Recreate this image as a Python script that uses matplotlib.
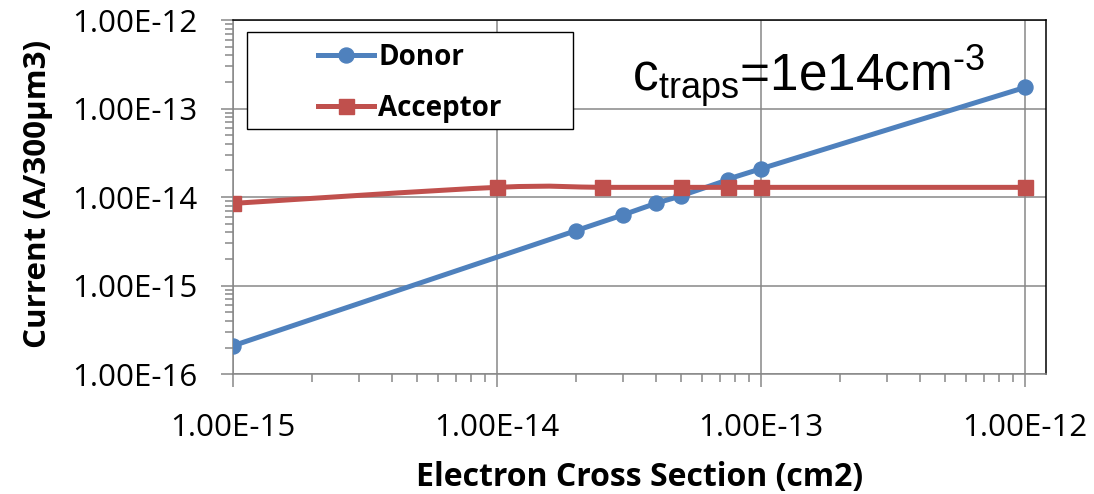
import numpy as np
import matplotlib
matplotlib.use('Agg')
import matplotlib.pyplot as plt
from matplotlib.path import Path
from matplotlib.patches import PathPatch, Rectangle
from matplotlib.lines import Line2D
from matplotlib.ticker import LogLocator, FixedLocator, NullFormatter
from matplotlib.font_manager import FontProperties

# ---------------- data ----------------
donor_x = [1e-15, 2e-14, 3e-14, 4e-14, 5e-14, 7.5e-14, 1e-13, 1e-12]
donor_y = [2.1e-16, 4.2e-15, 6.3e-15, 8.5e-15, 1.04e-14, 1.57e-14, 2.09e-14, 1.73e-13]

acceptor_x = [1e-15, 1e-14, 2.5e-14, 5e-14, 7.5e-14, 1e-13, 1e-12]
acceptor_y = [8.5e-15, 1.29e-14, 1.29e-14, 1.29e-14, 1.29e-14, 1.29e-14, 1.29e-14]

series_names = ['Donor', 'Acceptor']

x_tick_values = [1e-15, 1e-14, 1e-13, 1e-12]
x_tick_labels = ['1.00E-15', '1.00E-14', '1.00E-13', '1.00E-12']
y_tick_values = [1e-16, 1e-15, 1e-14, 1e-13, 1e-12]
y_tick_labels = ['1.00E-16', '1.00E-15', '1.00E-14', '1.00E-13', '1.00E-12']

x_label = 'Electron Cross Section (cm2)'
y_label = 'Current (A/300\u00b5m3)'
annotation = r'$\text{c}_{\text{traps}}\text{=1e14cm}^{\text{-3}}$'

# ---------------- style ----------------
plt.rcParams['mathtext.fontset'] = 'custom'
plt.rcParams['mathtext.rm'] = 'Liberation Sans'
plt.rcParams['mathtext.it'] = 'Liberation Sans:italic'
plt.rcParams['mathtext.bf'] = 'Liberation Sans:bold'

W, H = 1094, 494
blue = '#4F81BD'
red = '#C0504D'
grid_c = '#878787'
tick_font = 'Open Sans'
lw_series = 3.6


def smooth_path(xs, ys):
    """Excel-like smoothed line (Bezier through points, in log space)."""
    lx, ly = np.log10(xs), np.log10(ys)
    n = len(lx)
    verts = [(lx[0], ly[0])]
    codes = [Path.MOVETO]
    for i in range(n - 1):
        a = i - 1 if i > 0 else i
        b = i + 2 if i + 2 < n else i + 1
        c1 = (lx[i] + (lx[i + 1] - lx[a]) / 6, ly[i] + (ly[i + 1] - ly[a]) / 6)
        c2 = (lx[i + 1] - (lx[b] - lx[i]) / 6, ly[i + 1] - (ly[b] - ly[i]) / 6)
        verts += [c1, c2, (lx[i + 1], ly[i + 1])]
        codes += [Path.CURVE4] * 3
    return Path(10 ** np.array(verts), codes)


fig = plt.figure(figsize=(W / 100, H / 100), dpi=100)
L, R, T, B = 233, 1045.7, 20, 374.3
ax = fig.add_axes([L / W, 1 - B / H, (R - L) / W, (B - T) / H])

ax.set_xscale('log')
ax.set_yscale('log')
ax.set_xlim(1e-15, 1.2e-12)
ax.set_ylim(1e-16, 1e-12)

# series
for xs, ys, col, mk in [(donor_x, donor_y, blue, 'o'), (acceptor_x, acceptor_y, red, 's')]:
    ax.add_patch(PathPatch(smooth_path(xs, ys), facecolor='none', edgecolor=col,
                           lw=lw_series, capstyle='round', joinstyle='round', zorder=3))
    ax.plot(xs, ys, linestyle='none', marker=mk, ms=10.8, color=col,
            markeredgecolor=col, zorder=3)

# axes styling
ax.set_axisbelow(True)
ax.grid(which='major', color=grid_c, lw=1.1)
ax.xaxis.set_major_locator(FixedLocator(x_tick_values))
ax.yaxis.set_major_locator(FixedLocator(y_tick_values))
ax.xaxis.set_minor_locator(LogLocator(base=10, subs=np.arange(2, 10), numticks=50))
ax.yaxis.set_minor_locator(LogLocator(base=10, subs=np.arange(2, 10), numticks=50))
ax.xaxis.set_minor_formatter(NullFormatter())
ax.yaxis.set_minor_formatter(NullFormatter())
ax.set_xticklabels(x_tick_labels, fontfamily=tick_font, fontsize=22.5)
ax.set_yticklabels(y_tick_labels, fontfamily=tick_font, fontsize=22.5)
ax.tick_params(which='major', length=9, width=1.1, color=grid_c, direction='out')
ax.tick_params(which='minor', length=6, width=1.1, color=grid_c, direction='out')
ax.tick_params(axis='x', which='major', pad=19)
ax.tick_params(axis='y', which='major', pad=16.5)

for s in ['left', 'bottom']:
    ax.spines[s].set_color(grid_c)
    ax.spines[s].set_linewidth(1.1)
for s in ['top', 'right']:
    ax.spines[s].set_color('black')
    ax.spines[s].set_linewidth(1.1)

ax.set_xlabel(x_label, fontfamily=tick_font, fontweight='bold', fontsize=23)
ax.set_ylabel(y_label, fontfamily=tick_font, fontweight='bold', fontsize=22.5)
ax.xaxis.set_label_coords(0.5, (B - 461) / (B - T))
ax.yaxis.set_label_coords((53 - L) / (R - L), (B - 193.5) / (B - T))

# legend box
lx0, ly0, lx1, ly1 = 246.7, 31.7, 573.3, 129.3
ax.add_patch(Rectangle((lx0 / W, 1 - ly1 / H), (lx1 - lx0) / W, (ly1 - ly0) / H,
                       transform=fig.transFigure, facecolor='white', edgecolor='black',
                       lw=1.0, zorder=4, clip_on=False))
handles = [Line2D([], [], color=blue, lw=lw_series, marker='o', ms=10.8),
           Line2D([], [], color=red, lw=lw_series, marker='s', ms=10.8)]
leg = ax.legend(handles, series_names, loc='center',
                bbox_to_anchor=((lx0 + lx1) / 2 / W, 1 - ((ly0 + ly1) / 2 + 2.5) / H),
                bbox_transform=fig.transFigure, frameon=False,
                prop=FontProperties(family=tick_font, weight='bold', size=20),
                handlelength=2.0, handletextpad=0.15, labelspacing=0.78)
leg.set_zorder(5)

# annotation
fig.text(632 / W, 1 - 92 / H, annotation, fontsize=37,
         ha='left', va='baseline', color='black')

fig.savefig('out.png', dpi=100)
